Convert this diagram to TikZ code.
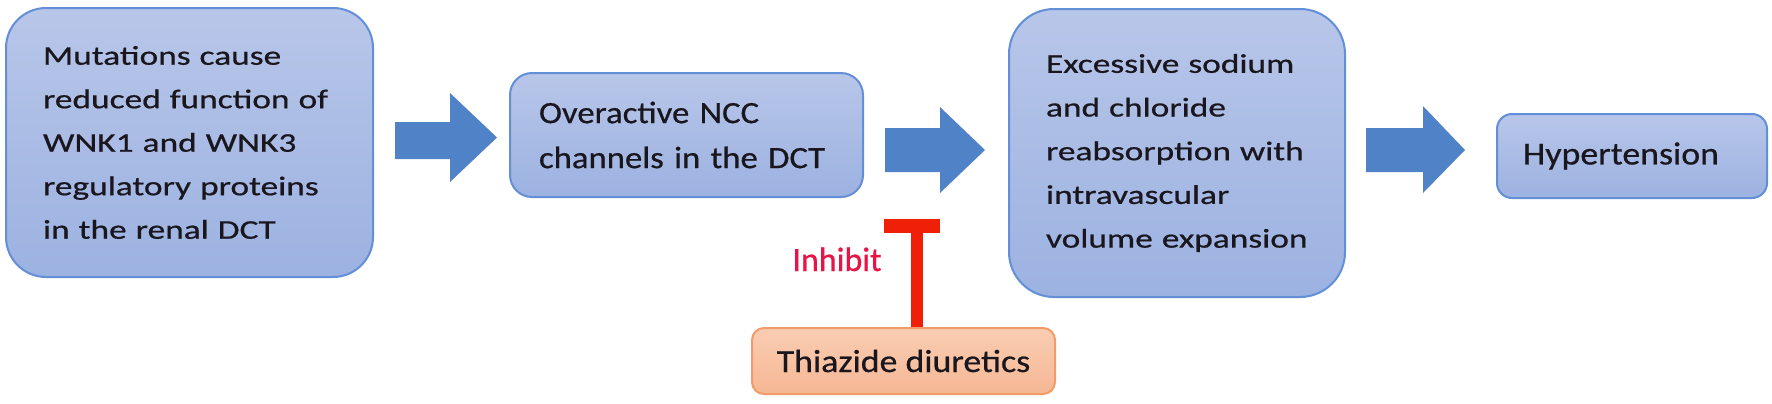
\documentclass[tikz,border=0pt]{standalone}
\usepackage{fontspec}
\setmainfont{Carlito}[FakeBold=0.6]
\newfontfamily\fbig{Carlito}[FakeStretch=1.31,FakeBold=0.6]
\newfontfamily\fsmall{Carlito}[FakeStretch=1.12,FakeBold=0.6]
\definecolor{bluetop}{RGB}{184,198,233}
\definecolor{bluebot}{RGB}{156,178,225}
\definecolor{blueedge}{RGB}{98,143,214}
\definecolor{arrowblue}{RGB}{80,130,200}
\definecolor{peachtop}{RGB}{249,205,178}
\definecolor{peachbot}{RGB}{246,183,148}
\definecolor{peachedge}{RGB}{240,155,105}
\definecolor{tred}{RGB}{240,32,8}
\definecolor{inhib}{RGB}{232,20,70}
\definecolor{txt}{RGB}{25,22,30}
\begin{document}
\begin{tikzpicture}[x=0.5pt,y=-0.5pt,
  bluebox/.style={draw=blueedge,line width=1pt,top color=bluetop,bottom color=bluebot,
     text=txt,align=left,inner ysep=0pt},
  peachbox/.style={draw=peachedge,line width=1pt,top color=peachtop,bottom color=peachbot,
     text=txt,align=center,inner sep=0pt},
  blockarrow/.style={fill=arrowblue,draw=none},
  inhibitline/.style={draw=tred}
]
\useasboundingbox (0,0) rectangle (1772,403);

\node[bluebox,rounded corners=20pt,minimum width=183.5pt,minimum height=134.5pt,
  inner xsep=18.5pt,text width=146.5pt,
  font=\fontsize{13.5}{21.75}\fbig] (b1) at (189.5,142.5)
  {Mutations cause\\reduced function of\\WNK1 and WNK3\\regulatory proteins\\in the renal DCT};

\node[bluebox,rounded corners=11pt,minimum width=176.5pt,minimum height=62pt,
  inner xsep=14.5pt,text width=147.5pt,
  font=\fontsize{15.5}{22.5}\fsmall] (b2) at (686.5,135)
  {Overactive NCC\\channels in the DCT};

\node[bluebox,rounded corners=22.5pt,minimum width=168pt,minimum height=144pt,
  inner xsep=18.5pt,text width=131pt,
  font=\fontsize{13.5}{21.85}\fbig] (b3) at (1177,153)
  {Excessive sodium\\and chloride\\reabsorption with\\intravascular\\volume expansion};

\node[bluebox,rounded corners=7.5pt,minimum width=135pt,minimum height=42pt,
  inner xsep=13pt,text width=109pt,
  font=\fontsize{16}{20}\fsmall] (b4) at (1632,156)
  {Hypertension};

\node[peachbox,rounded corners=6pt,minimum width=151.5pt,minimum height=33pt,
  font=\fontsize{16}{20}\fsmall] (th) at (903.5,361)
  {Thiazide diuretics};

% block arrows
\fill[blockarrow] (395,122) -- (450,122) -- (450,93) -- (497,137.5) -- (450,182) -- (450,159) -- (395,159) -- cycle;
\fill[blockarrow] (885,128) -- (940,128) -- (940,107) -- (985,150) -- (940,193) -- (940,172) -- (885,172) -- cycle;
\fill[blockarrow] (1366,128) -- (1423,128) -- (1423,106) -- (1465,150) -- (1423,193) -- (1423,172) -- (1366,172) -- cycle;

% inhibition T
\coordinate (tb) at (917,226);
\draw[inhibitline,line width=6pt] (th.north -| tb) -- (tb);
\draw[inhibitline,line width=7pt] (884,226) -- (940,226);

\node[text=inhib,font=\fontsize{17}{20}\selectfont,anchor=base] (inh) at (837,271) {Inhibit};
\end{tikzpicture}
\end{document}
